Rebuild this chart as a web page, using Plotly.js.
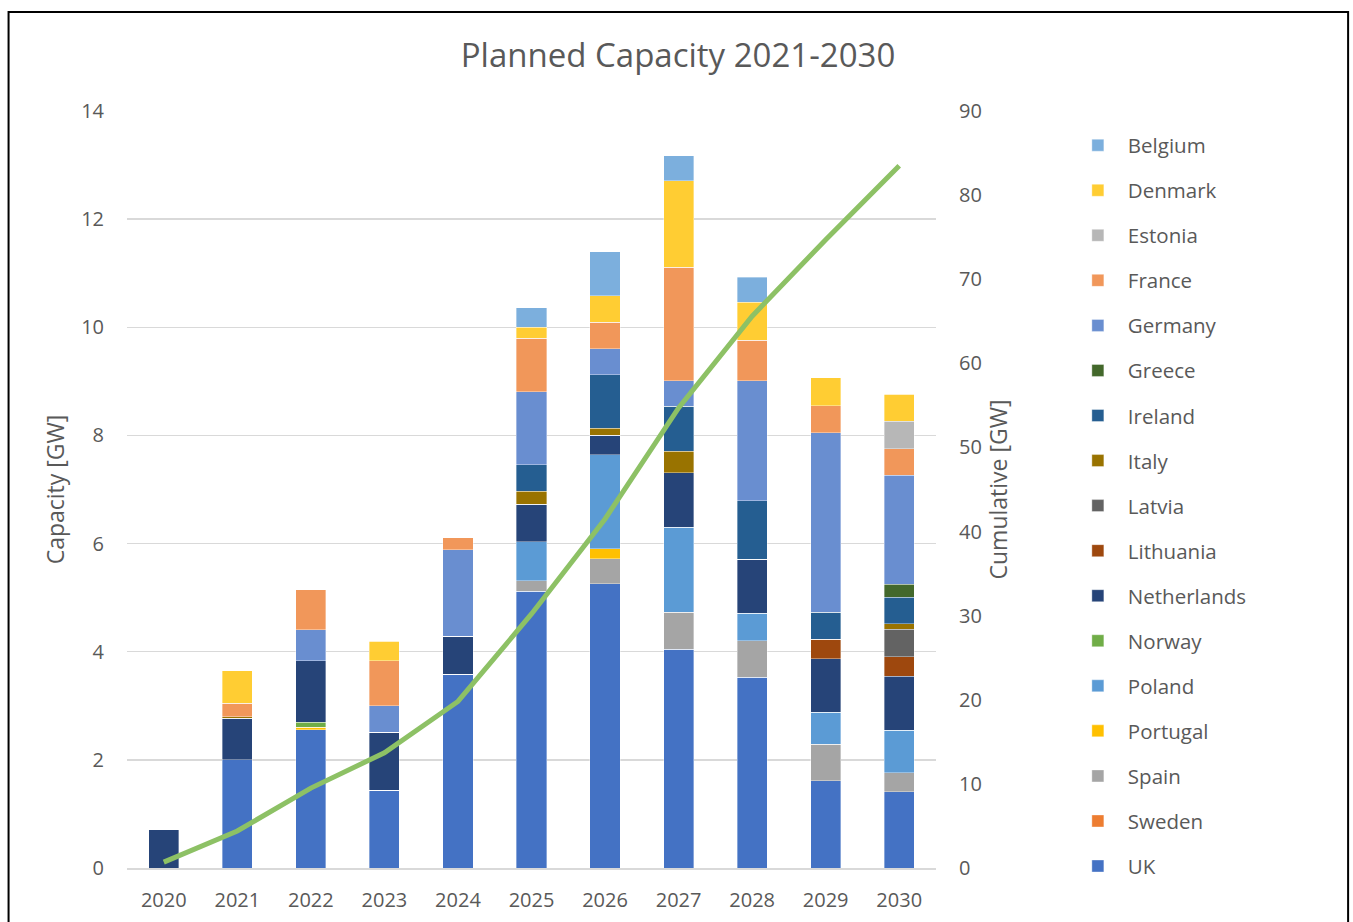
<!DOCTYPE html>
<html>
<head>
<meta charset="utf-8">
<script src="https://cdn.plot.ly/plotly-3.0.1.min.js"></script>
<style>
  html, body { margin: 0; padding: 0; background: #ffffff; }
  #chart { width: 1353px; height: 922px; }
</style>
</head>
<body>
<div id="chart"></div>
<script>
// ---- Data ----
const years = ["2020","2021","2022","2023","2024","2025","2026","2027","2028","2029","2030"];

// Stacked from the bottom (UK) to the top (Belgium)
const UK          = [0, 2.00, 2.56, 1.44, 3.58, 5.12, 5.26, 4.05, 3.53, 1.61, 1.41];
const Sweden      = [0, 0, 0, 0, 0, 0, 0, 0, 0, 0, 0];
const Spain       = [0, 0, 0, 0, 0, 0.19, 0.46, 0.68, 0.67, 0.68, 0.35];
const Portugal    = [0, 0, 0.04, 0, 0, 0, 0.18, 0, 0, 0, 0];
const Poland      = [0, 0, 0, 0, 0, 0.72, 1.74, 1.57, 0.51, 0.59, 0.79];
const Norway      = [0, 0, 0.10, 0, 0, 0, 0, 0, 0, 0, 0];
const Netherlands = [0.71, 0.77, 1.13, 1.07, 0.71, 0.70, 0.36, 1.01, 1.00, 0.99, 1.00];
const Lithuania   = [0, 0, 0, 0, 0, 0, 0, 0, 0, 0.36, 0.36];
const Latvia      = [0, 0, 0, 0, 0, 0, 0, 0, 0, 0, 0.51];
const Italy       = [0, 0.03, 0, 0, 0, 0.24, 0.13, 0.40, 0, 0, 0.10];
const Ireland     = [0, 0, 0, 0, 0, 0.49, 0.99, 0.83, 1.08, 0.50, 0.49];
const Greece      = [0, 0, 0, 0, 0, 0, 0, 0, 0, 0, 0.24];
const Germany     = [0, 0, 0.58, 0.49, 1.60, 1.35, 0.48, 0.47, 2.22, 3.32, 2.01];
const France      = [0, 0.25, 0.74, 0.83, 0.22, 0.99, 0.49, 2.10, 0.75, 0.50, 0.49];
const Estonia     = [0, 0, 0, 0, 0, 0, 0, 0, 0, 0, 0.51];
const Denmark     = [0, 0.60, 0, 0.36, 0, 0.20, 0.49, 1.60, 0.70, 0.52, 0.50];
const Belgium     = [0, 0, 0, 0, 0, 0.36, 0.82, 0.46, 0.47, 0, 0];

const cumulative  = [0.7, 4.4, 9.5, 13.7, 19.8, 30.2, 41.5, 54.7, 65.6, 74.7, 83.5];

const seriesNames = ["UK","Sweden","Spain","Portugal","Poland","Norway","Netherlands","Lithuania",
                     "Latvia","Italy","Ireland","Greece","Germany","France","Estonia","Denmark","Belgium"];
const seriesValues = [UK, Sweden, Spain, Portugal, Poland, Norway, Netherlands, Lithuania,
                      Latvia, Italy, Ireland, Greece, Germany, France, Estonia, Denmark, Belgium];
const seriesColors = ["#4472C4","#ED7D31","#A5A5A5","#FFC000","#5B9BD5","#70AD47","#264478","#9E480E",
                      "#636363","#997300","#255E91","#43682B","#698ED0","#F1975A","#B7B7B7","#FFCD33","#7CAFDD"];

const FONT = "'Open Sans', 'Liberation Sans', sans-serif";
const TXT = "#595959";

const traces = seriesNames.map((name, i) => ({
  type: "bar",
  name: name,
  x: years,
  y: seriesValues[i],
  legendgroup: name,
  legendrank: seriesNames.length - i,
  marker: { color: seriesColors[i], line: { color: "rgba(255,255,255,0.6)", width: 0.6 } },
  hoverinfo: "x+y+name"
}));

traces.push({
  type: "scatter",
  mode: "lines",
  name: "Cumulative",
  x: years,
  y: cumulative,
  yaxis: "y2",
  showlegend: false,
  line: { color: "#8DC165", width: 5 }
});

const layout = {
  width: 1353,
  height: 922,
  paper_bgcolor: "#ffffff",
  plot_bgcolor: "#ffffff",
  barmode: "stack",
  bargap: 0.59,
  margin: { l: 127, r: 417, t: 111, b: 54, pad: 0 },
  font: { family: FONT, color: TXT },
  title: {
    text: "Planned Capacity 2021-2030",
    font: { family: FONT, size: 33, color: TXT },
    x: 678 / 1353, xref: "container", xanchor: "center",
    y: 56, yref: "container", yanchor: "middle"
  },
  xaxis: {
    type: "category",
    showgrid: false,
    showline: true,
    linecolor: "#D9D9D9",
    linewidth: 1.5,
    ticks: "",
    tickfont: { family: FONT, size: 20, color: TXT },
    ticklabelstandoff: 13
  },
  yaxis: {
    range: [0, 14],
    dtick: 2,
    showgrid: true,
    gridcolor: "#D9D9D9",
    gridwidth: 1.5,
    zeroline: false,
    ticks: "",
    tickfont: { family: FONT, size: 20, color: TXT },
    ticklabelstandoff: 22,
    title: { text: "Capacity [GW]", font: { family: FONT, size: 23, color: TXT }, standoff: 10 }
  },
  yaxis2: {
    range: [0, 90],
    dtick: 10,
    overlaying: "y",
    side: "right",
    showgrid: false,
    zeroline: false,
    ticks: "",
    tickfont: { family: FONT, size: 20, color: TXT },
    ticklabelstandoff: 22,
    title: { text: "Cumulative [GW]", font: { family: FONT, size: 23, color: TXT }, standoff: 10 }
  },
  legend: {
    x: 1.163, xanchor: "left",
    y: 0.981, yanchor: "top",
    traceorder: "grouped",
    tracegroupgap: 15.4,
    itemwidth: 50,
    font: { family: FONT, size: 20.5, color: TXT },
    bgcolor: "rgba(0,0,0,0)"
  },
  shapes: [{
    type: "rect", xref: "paper", yref: "paper",
    x0: -0.1464, x1: 1.5094, y0: -0.08, y1: 1.1308,
    line: { color: "#000000", width: 2 }, fillcolor: "rgba(0,0,0,0)", layer: "below"
  }]
};

Plotly.newPlot("chart", traces, layout, { displayModeBar: false, staticPlot: true });
</script>
</body>
</html>
